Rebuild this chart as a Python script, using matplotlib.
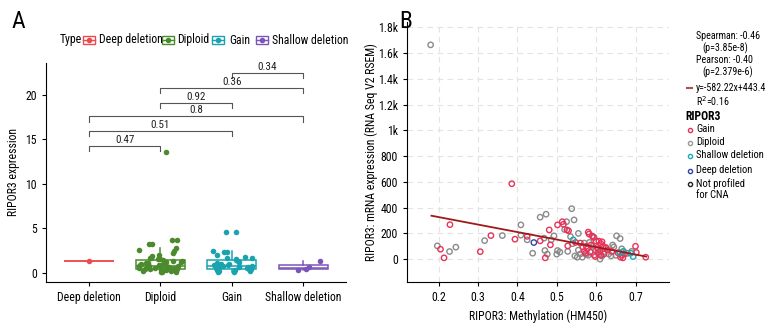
import numpy as np
import matplotlib
matplotlib.use("Agg")
import matplotlib.pyplot as plt
from matplotlib.patches import Rectangle
from matplotlib.lines import Line2D
import logging
logging.getLogger('matplotlib.font_manager').setLevel(logging.ERROR)

plt.rcParams['font.family'] = ['Roboto Condensed', 'PT Sans Narrow', 'Fira Sans Condensed',
                               'Archivo Narrow', 'Liberation Sans', 'DejaVu Sans']

# ---------------- Panel A data ----------------
groups = ["Deep deletion", "Diploid", "Gain", "Shallow deletion"]
group_colors = ["#EE4B4E", "#4C8A2E", "#1AA3AE", "#7B55B8"]
deep_vals = [1.3]
diploid_vals = [13.6, 3.7, 3.7, 3.2, 3.2, 2.8, 2.6, 2.4, 2.2, 2.0, 1.9, 1.7, 1.6,
                1.5, 1.5, 1.4, 1.3, 1.3, 1.2, 1.2, 1.1, 1.1, 1.0, 1.0, 0.9, 0.9,
                0.9, 0.8, 0.8, 0.8, 0.7, 0.7, 0.7, 0.6, 0.6, 0.6, 0.5, 0.5, 0.5,
                0.4, 0.4, 0.4, 0.3, 0.3, 0.3, 0.2, 0.2, 0.1, 0.1, 0.05]
gain_vals = [4.6, 4.6, 2.4, 2.3, 2.3, 2.0, 1.8, 1.7, 1.6, 1.5, 1.4, 1.3, 1.2, 1.1,
             1.0, 1.0, 0.9, 0.9, 0.8, 0.8, 0.7, 0.7, 0.6, 0.6, 0.5, 0.5, 0.4,
             0.4, 0.3, 0.3, 0.2, 0.2, 0.1, 0.1]
shallow_vals = [1.3, 0.6, 0.45, 0.25]
box_q1 = [1.3, 0.38, 0.42, 0.38]
box_med = [1.3, 0.8, 0.75, 0.55]
box_q3 = [1.3, 1.43, 1.40, 0.85]
box_lo = [1.3, 0.05, 0.1, 0.25]
box_hi = [1.3, 2.8, 2.4, 1.3]
pair_left = [1, 1, 1, 2, 2, 3]
pair_right = [2, 3, 4, 3, 4, 4]
pair_p = ["0.47", "0.51", "0.8", "0.92", "0.36", "0.34"]
pair_y = [14.3, 16.0, 17.6, 19.1, 20.8, 22.5]

# ---------------- Panel B data ----------------
gain_x = [0.205, 0.214, 0.229, 0.306, 0.333, 0.386, 0.394, 0.425, 0.458, 0.471,
          0.481, 0.484, 0.502, 0.514, 0.517, 0.526, 0.528, 0.530, 0.548, 0.560,
          0.566, 0.570, 0.573, 0.575, 0.578, 0.580, 0.582, 0.585, 0.590, 0.593,
          0.595, 0.598, 0.600, 0.603, 0.605, 0.607, 0.610, 0.612, 0.615, 0.618,
          0.620, 0.625, 0.630, 0.640, 0.655, 0.662, 0.665, 0.668, 0.672, 0.700,
          0.702, 0.726, 0.612, 0.587]
gain_y = [77, 10, 268, 58, 183, 586, 155, 177, 142, 10,
          227, 111, 266, 291, 271, 227, 103, 220, 130, 125,
          95, 60, 45, 100, 80, 210, 195, 55, 180, 170,
          30, 20, 140, 90, 75, 140, 60, 120, 135, 100,
          40, 90, 70, 60, 50, 15, 30, 10, 40, 100,
          52, 15, 30, 110]
dip_x = [0.180, 0.197, 0.228, 0.244, 0.317, 0.362, 0.409, 0.409, 0.425, 0.439,
         0.458, 0.473, 0.468, 0.476, 0.470, 0.493, 0.486, 0.502, 0.500, 0.538,
         0.544, 0.525, 0.520, 0.535, 0.540, 0.528, 0.546, 0.552, 0.555, 0.560,
         0.565, 0.570, 0.580, 0.583, 0.590, 0.595, 0.600, 0.605, 0.610, 0.615,
         0.620, 0.625, 0.632, 0.638, 0.642, 0.645, 0.650, 0.652, 0.661, 0.665,
         0.670, 0.680, 0.690, 0.555, 0.508, 0.575]
dip_y = [1665, 103, 59, 93, 144, 183, 266, 186, 150, 46,
         326, 349, 163, 39, 67, 181, 150, 67, 39, 392,
         305, 291, 230, 175, 120, 60, 25, 15, 70, 40,
         15, 125, 30, 130, 100, 170, 70, 45, 0, 25,
         55, 85, 40, 25, 110, 95, 30, 181, 160, 80,
         60, 45, 60, 200, 55, 35]
shal_x = [0.542, 0.669, 0.688, 0.694, 0.660]
shal_y = [150, 59, 46, 20, 50]
deep_x = [0.442]
deep_y = [129]
fit_slope = -582.22
fit_icpt = 443.4
fit_range = [0.182, 0.727]

W, H = 780, 336
fig = plt.figure(figsize=(W / 100, H / 100), dpi=100)

def fx(px):
    return px / W

def fy(py):
    return 1 - py / H

FS = 8.5

# ================= Panel A =================
axA = fig.add_axes([fx(46), fy(282), fx(346) - fx(46), fy(63) - fy(282)])
pos = [1, 2, 3, 4]
for i in range(4):
    c = group_colors[i]
    st = dict(med=box_med[i], q1=box_q1[i], q3=box_q3[i],
              whislo=box_lo[i], whishi=box_hi[i], fliers=[])
    axA.bxp([st], positions=[pos[i]], widths=0.69, showfliers=False,
            patch_artist=True, showcaps=False,
            boxprops=dict(facecolor="white", edgecolor=c, linewidth=1.1),
            medianprops=dict(color=c, linewidth=1.1),
            whiskerprops=dict(color=c, linewidth=1.1), zorder=2)

rng = np.random.default_rng(7)
all_vals = [deep_vals, diploid_vals, gain_vals, shallow_vals]
for i, vals in enumerate(all_vals):
    if len(vals) == 1:
        jit = np.zeros(1)
    else:
        jit = rng.uniform(-0.3, 0.3, len(vals))
    axA.scatter(pos[i] + jit, vals, s=16, color=group_colors[i], zorder=3,
                linewidths=0)

for l, r, p, y in zip(pair_left, pair_right, pair_p, pair_y):
    axA.plot([l, l, r, r], [y - 0.6, y, y, y - 0.6], color="#555555", lw=0.8)
    axA.text((l + r) / 2, y + 0.1, p, ha="center", va="bottom", fontsize=8,
             color="#222222")

axA.set_xlim(0.4, 4.6)
axA.set_ylim(-1.05, 23.6)
axA.set_yticks([0, 5, 10, 15, 20])
axA.set_xticks(pos)
axA.set_xticklabels(groups, fontsize=FS)
axA.tick_params(axis="y", labelsize=FS, length=3)
axA.tick_params(axis="x", length=3)
for s in ["top", "right"]:
    axA.spines[s].set_visible(False)
axA.set_ylabel("RIPOR3 expression", fontsize=FS)
axA.yaxis.set_label_coords(-0.085, 0.5)

# legend for A
fig.text(fx(60), fy(40), "Type", fontsize=FS, va="center", ha="left")
icon_x = [89, 168, 218, 262]
text_x = [99, 177, 229, 272]
for i in range(4):
    c = group_colors[i]
    cx = icon_x[i]
    fig.patches.append(Rectangle((fx(cx - 6), fy(44)), fx(12), fy(36) - fy(44),
                                 transform=fig.transFigure, facecolor="white",
                                 edgecolor=c, linewidth=1.0))
    fig.lines.append(Line2D([fx(cx - 6), fx(cx + 6)], [fy(40), fy(40)],
                            transform=fig.transFigure, color=c, lw=1.0))
    fig.lines.append(Line2D([fx(cx)], [fy(40)], transform=fig.transFigure,
                            color=c, marker="o", markersize=3, lw=0))
    fig.text(fx(text_x[i]), fy(40), groups[i], fontsize=FS, va="center", ha="left")

fig.text(fx(18), fy(21), "A", fontsize=17, ha="center", va="center")
fig.text(fx(406), fy(21), "B", fontsize=17, ha="center", va="center")

# ================= Panel B =================
axB = fig.add_axes([fx(407), fy(282.3), fx(669) - fx(407), fy(21.7) - fy(282.3)])
axB.set_xlim(0.12, 0.785)
axB.set_ylim(-180, 1845)
yt = [0, 200, 400, 600, 800, 1000, 1200, 1400, 1600, 1800]
ytl = ["0", "200", "400", "600", "800", "1k", "1.2k", "1.4k", "1.6k", "1.8k"]
axB.set_yticks(yt)
axB.set_yticklabels(ytl)
xt = [0.2, 0.3, 0.4, 0.5, 0.6, 0.7]
axB.set_xticks(xt)
axB.set_xticklabels(["0.2", "0.3", "0.4", "0.5", "0.6", "0.7"])
axB.tick_params(labelsize=FS, length=3)
axB.grid(True, color="#E3E3E3", linestyle=(0, (5, 4)), linewidth=0.8)
axB.set_axisbelow(True)
for s in ["top", "right"]:
    axB.spines[s].set_visible(False)

kw = dict(s=15, facecolors="none", linewidths=1.0)
axB.scatter(dip_x, dip_y, edgecolors="#8A8A8A", zorder=3, **kw)
axB.scatter(gain_x, gain_y, edgecolors="#E8325A", zorder=4, **kw)
axB.scatter(shal_x, shal_y, edgecolors="#1AA9B4", zorder=5, **kw)
axB.scatter(deep_x, deep_y, edgecolors="#2B45A8", zorder=5, **kw)
fx_line = np.array(fit_range)
axB.plot(fx_line, fit_slope * fx_line + fit_icpt, color="#9E1A1A", lw=1.3, zorder=6)

axB.set_xlabel("RIPOR3: Methylation (HM450)", fontsize=FS)
axB.set_ylabel("RIPOR3: mRNA expression (RNA Seq V2 RSEM)", fontsize=FS)
axB.yaxis.set_label_coords(-0.11, 0.5)

# right annotations
fs = 7.2
fig.text(fx(696), fy(36), "Spearman: -0.46", fontsize=fs, va="center")
fig.text(fx(702), fy(48), "(p=3.85e-8)", fontsize=fs, va="center")
fig.text(fx(696), fy(60), "Pearson: -0.40", fontsize=fs, va="center")
fig.text(fx(702), fy(72), "(p=2.379e-6)", fontsize=fs, va="center")
fig.lines.append(Line2D([fx(687), fx(692)], [fy(88), fy(88)],
                        transform=fig.transFigure, color="#B05050", lw=1.5))
fig.text(fx(696), fy(88), "y=-582.22x+443.4", fontsize=fs, va="center")
fig.text(fx(696), fy(101), "R$^2$=0.16", fontsize=fs, va="center")
fig.text(fx(685), fy(117), "RIPOR3", fontsize=8.5, va="center", fontweight="bold")
leg_labels = ["Gain", "Diploid", "Shallow deletion", "Deep deletion", "Not profiled\nfor CNA"]
leg_colors = ["#E8325A", "#9A9A9A", "#1AA9B4", "#2B45A8", "#222222"]
leg_y = [130, 143, 156, 171, 184]
for lab, c, y in zip(leg_labels, leg_colors, leg_y):
    fig.lines.append(Line2D([fx(690)], [fy(y)], transform=fig.transFigure,
                            marker="o", markersize=3, markerfacecolor="none",
                            markeredgecolor=c, markeredgewidth=1.0, lw=0))
    fig.text(fx(696), fy(y - 6), lab, fontsize=7.6, va="top", ha="left",
             linespacing=1.15)

fig.savefig("out.png", dpi=100)
